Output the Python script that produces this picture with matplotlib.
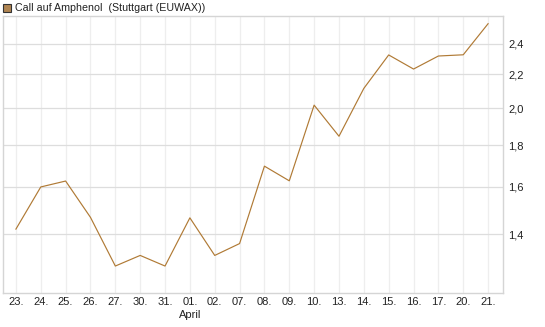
import numpy as np
import matplotlib.pyplot as plt
from matplotlib.ticker import FixedLocator, NullLocator, FuncFormatter
from matplotlib.patches import Rectangle

dates = ["23.", "24.", "25.", "26.", "27.", "30.", "31.", "01.", "02.", "07.",
         "08.", "09.", "10.", "13.", "14.", "15.", "16.", "17.", "20.", "21."]
prices = [1.42, 1.60, 1.627, 1.468, 1.279, 1.318, 1.279, 1.466, 1.318, 1.363,
          1.697, 1.628, 2.017, 1.847, 2.115, 2.325, 2.234, 2.318, 2.326, 2.54]
yticks = [1.4, 1.6, 1.8, 2.0, 2.2, 2.4]
title = "Call auf Amphenol  (Stuttgart (EUWAX))"
line_col = "#b07a35"

plt.rcParams['font.family'] = ['Liberation Sans', 'DejaVu Sans']

fig = plt.figure(figsize=(5.45, 3.27), dpi=100)
ax = fig.add_axes([3/545, 1-293/327, 500/545, 277/327])

x = np.arange(len(dates))
ax.plot(x, prices, color=line_col, lw=0.85)

ax.set_yscale('log')
ax.set_ylim(1.185, 2.596)
ax.set_xlim(-0.52, len(dates) - 1 + 0.6)
ax.yaxis.set_major_locator(FixedLocator(yticks))
ax.yaxis.set_minor_locator(NullLocator())
ax.yaxis.set_major_formatter(FuncFormatter(lambda v, p: f"{v:.1f}".replace(".", ",")))
ax.yaxis.tick_right()
ax.set_xticks(x)
ax.set_xticklabels(dates)

ax.tick_params(axis='both', length=0, labelsize=8, colors="#222222")
ax.tick_params(axis='y', pad=4)
ax.tick_params(axis='x', pad=3)

ax.grid(axis='y', color="#dddddd", lw=0.9)
ax.grid(axis='x', color="#eeeeee", lw=0.9)
ax.set_axisbelow(True)
for s in ax.spines.values():
    s.set_color("#d5d5d5")
    s.set_linewidth(1)

# month label under first April date
ax.text(dates.index("01."), -0.08, "April", transform=ax.get_xaxis_transform(),
        ha='center', va='center', fontsize=8, color="#222222")

# legend-like header
fig.patches.append(Rectangle((3/545, 1-12/327), 8/545, 8/327, transform=fig.transFigure,
                             facecolor="#b08552", edgecolor="#333333", lw=0.8))
fig.text(15/545, 1-8/327, title, ha='left', va='center', fontsize=7.7, color="#222222")

fig.savefig("out.png", dpi=100)
